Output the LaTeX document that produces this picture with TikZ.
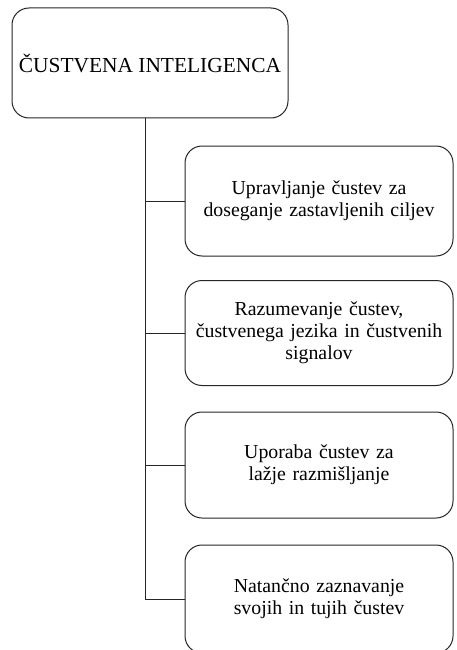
\documentclass[tikz,border=0pt]{standalone}
\usepackage{fontspec}
\setmainfont{Liberation Serif}
\begin{document}
\begin{tikzpicture}[x=1pt,y=-1pt,
  box/.style={draw=black!85, line width=1pt, rounded corners=17pt, align=center, inner sep=0pt},
  topbox/.style={box, minimum width=276pt, minimum height=110pt, font=\fontsize{21.4}{24}\selectfont},
  kid/.style={box, minimum width=268pt, text width=262pt, font=\fontsize{19.8}{22}\selectfont},
  link/.style={draw=black!85, line width=1pt}]
\useasboundingbox (0,0) rectangle (456,650);
\clip (0,0) rectangle (456,650);
\fill[white] (0,0) rectangle (456,650);
\node[topbox] (top) at (150,63) {ČUSTVENA INTELIGENCA};
\node[kid, minimum height=110pt] (c1) at (319,201) {Upravljanje čustev za\\doseganje zastavljenih ciljev};
\node[kid, minimum height=105pt] (c2) at (319,333) {Razumevanje čustev,\\čustvenega jezika in čustvenih\\signalov};
\node[kid, minimum height=106pt] (c3) at (319,465) {Uporaba čustev za\\lažje razmišljanje};
\node[kid, minimum height=108pt] (c4) at (319,599) {Natančno zaznavanje\\svojih in tujih čustev};
\coordinate (spine) at (145,0);
\draw[link] (top.south -| spine) -- (spine |- c4.west);
\draw[link] (spine |- c1.west) -- (c1.west);
\draw[link] (spine |- c2.west) -- (c2.west);
\draw[link] (spine |- c3.west) -- (c3.west);
\draw[link] (spine |- c4.west) -- (c4.west);
\end{tikzpicture}
\end{document}
